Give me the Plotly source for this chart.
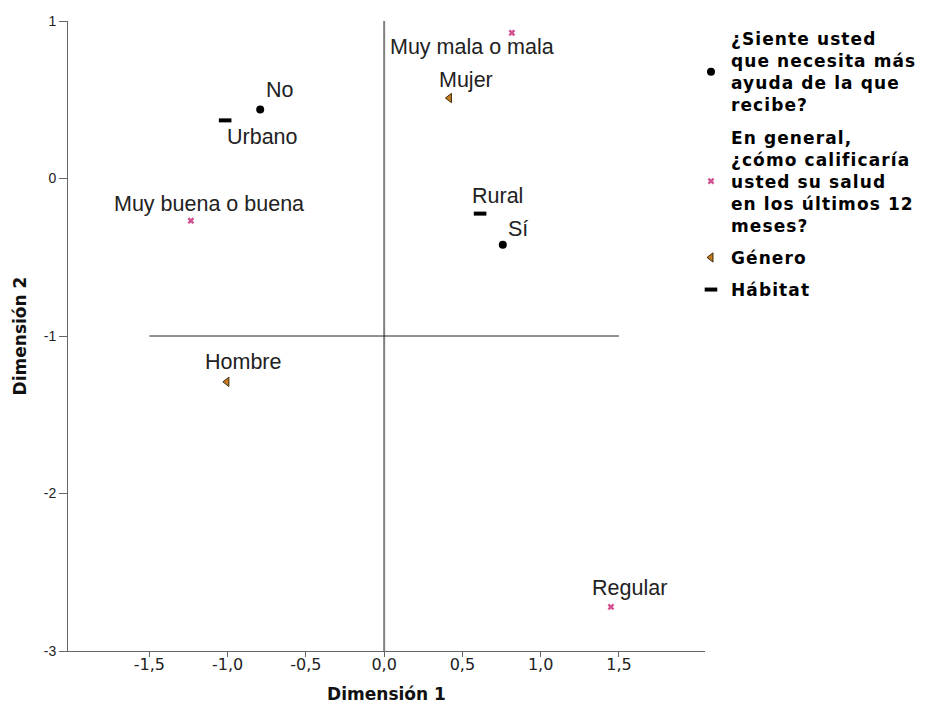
import plotly.graph_objects as go

# ---- data ----
ayuda_labels = ["No", "Sí"]
ayuda_x = [-0.792, 0.758]
ayuda_y = [0.438, -0.420]

salud_labels = ["Muy mala o mala", "Regular", "Muy buena o buena"]
salud_x = [0.816, 1.449, -1.235]
salud_y = [0.925, -2.720, -0.268]

genero_labels = ["Mujer", "Hombre"]
genero_x = [0.417, -1.005]
genero_y = [0.511, -1.291]

habitat_labels = ["Urbano", "Rural"]
habitat_x = [-1.016, 0.613]
habitat_y = [0.369, -0.223]

series_names = [
    ["¿Siente usted", "que necesita más", "ayuda de la que", "recibe?"],
    ["En general,", "¿cómo calificaría", "usted su salud", "en los últimos 12", "meses?"],
    ["Género"],
    ["Hábitat"],
]

x_tick_vals = [-1.5, -1.0, -0.5, 0.0, 0.5, 1.0, 1.5]
x_tick_text = ["-1,5", "-1,0", "-0,5", "0,0", "0,5", "1,0", "1,5"]
y_tick_vals = [-3, -2, -1, 0, 1]
y_tick_text = ["-3", "-2", "-1", "0", "1"]

# reference lines
ref_x = 0.0
ref_y = -1.0
ref_y_span = (-1.5, 1.5)

# ---- styles ----
label_offsets = {
    "No": (20, 20), "Sí": (15, 16),
    "Muy mala o mala": (-40, -14), "Regular": (19, 19), "Muy buena o buena": (18, 17),
    "Mujer": (17, 18), "Hombre": (16, 20),
    "Urbano": (37, -17), "Rural": (17, 18),
}


def legend_text(lines):
    return "<br>".join('<span style="letter-spacing:1.1px">%s</span>' % ln for ln in lines)


fig = go.Figure()

fig.add_trace(go.Scatter(x=ayuda_x, y=ayuda_y, mode="markers", name=legend_text(series_names[0]),
                         legendgroup="g1",
                         marker=dict(symbol="circle", size=8, color="black")))
fig.add_trace(go.Scatter(x=salud_x, y=salud_y, mode="markers", name=legend_text(series_names[1]),
                         legendgroup="g2",
                         marker=dict(symbol="x", size=6, color="#d2508f",
                                     line=dict(width=0))))
fig.add_trace(go.Scatter(x=genero_x, y=genero_y, mode="markers", name=legend_text(series_names[2]),
                         legendgroup="g3",
                         marker=dict(symbol="triangle-left", size=8, color="#c87a1e",
                                     line=dict(width=1, color="#3a2a10"))))
fig.add_trace(go.Scatter(x=habitat_x, y=habitat_y, mode="markers", name=legend_text(series_names[3]),
                         legendgroup="g4",
                         marker=dict(symbol="line-ew", size=9, color="black",
                                     line=dict(width=4, color="black"))))

for labels, xs, ys in [(ayuda_labels, ayuda_x, ayuda_y), (salud_labels, salud_x, salud_y),
                       (genero_labels, genero_x, genero_y), (habitat_labels, habitat_x, habitat_y)]:
    for lab, xv, yv in zip(labels, xs, ys):
        dx, dy = label_offsets[lab]
        fig.add_annotation(x=xv, y=yv, text=lab, showarrow=False, xshift=dx, yshift=dy,
                           font=dict(family="Liberation Sans", size=21.5, color="#222222"))

fig.add_shape(type="line", xref="x", yref="paper", x0=ref_x, x1=ref_x, y0=0, y1=1,
              line=dict(color="#808080", width=2), layer="below")
fig.add_shape(type="line", xref="x", yref="y", x0=ref_y_span[0], x1=ref_y_span[1],
              y0=ref_y, y1=ref_y, line=dict(color="#222222", width=1), layer="below")

fig.update_layout(
    width=934, height=722,
    margin=dict(l=60, r=237, t=13, b=79, autoexpand=False),
    paper_bgcolor="white", plot_bgcolor="white",
    showlegend=True,
    legend=dict(x=0.978, y=1.0, xanchor="left", yanchor="top",
                bgcolor="rgba(0,0,0,0)", valign="middle",
                font=dict(family="DejaVu Sans", size=17, color="black", weight="bold"),
                tracegroupgap=7, itemsizing="trace"),
    xaxis=dict(range=[-2.02, 2.05], tickvals=x_tick_vals, ticktext=x_tick_text,
               showgrid=False, zeroline=False, showline=True, linecolor="#666666",
               linewidth=1, ticks="outside", ticklen=5, tickcolor="#666666",
               ticklabelstandoff=-6,
               tickfont=dict(family="DejaVu Sans", size=16, color="#222222"),
               title=dict(text="<b>Dimensión 1</b>", standoff=14,
                          font=dict(family="DejaVu Sans", size=17, color="#111111"))),
    yaxis=dict(range=[-3, 1], tickvals=y_tick_vals, ticktext=y_tick_text,
               showgrid=False, zeroline=False, showline=True, linecolor="#666666",
               linewidth=1, ticks="outside", ticklen=8, tickcolor="#666666",
               tickfont=dict(family="Liberation Sans", size=14, color="#222222"),
               title=dict(text="<b>Dimensión 2</b>", standoff=12,
                          font=dict(family="DejaVu Sans", size=17, color="#111111"))),
)

fig.write_html("out.html")
